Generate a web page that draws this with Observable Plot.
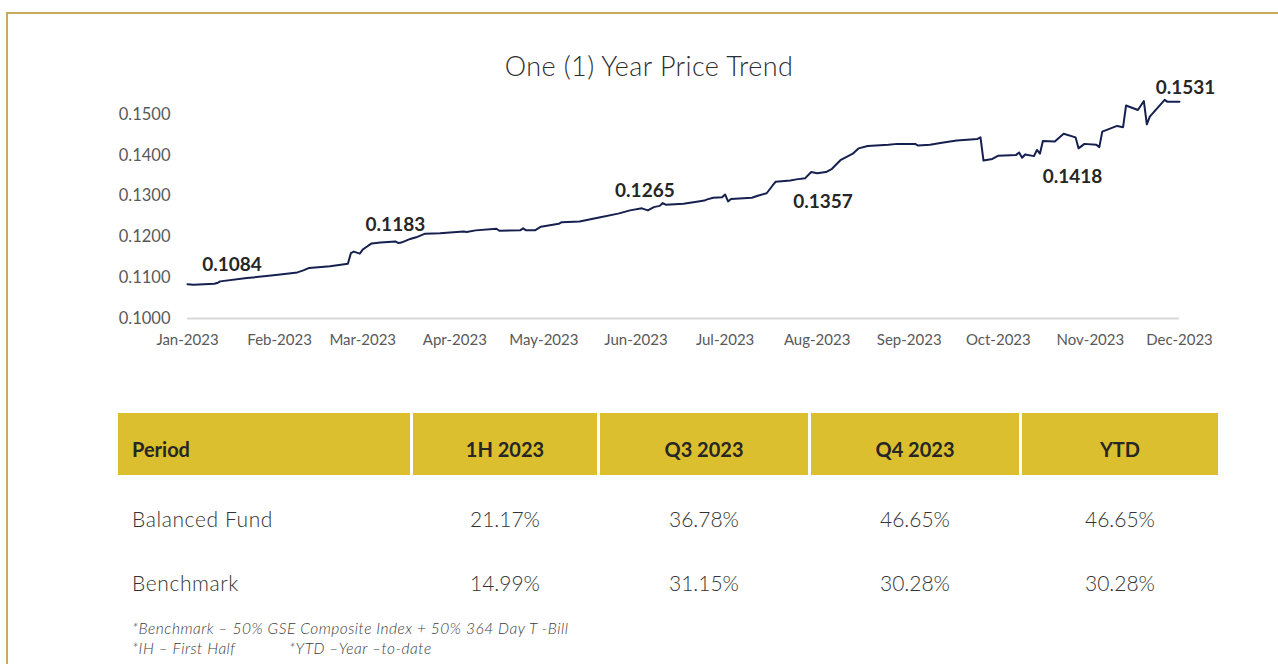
<!DOCTYPE html>
<html>
<head>
<meta charset="utf-8">
<script src="https://cdn.jsdelivr.net/npm/d3@7"></script>
<script src="https://cdn.jsdelivr.net/npm/@observablehq/plot@0.6"></script>
<style>
  html, body { margin: 0; padding: 0; background: #ffffff; }
  body { width: 1278px; height: 664px; position: relative; overflow: hidden; font-family: Lato, "Open Sans", sans-serif; }
  #frame { position: absolute; left: 6px; top: 12px; width: 1290px; height: 700px;
           border-top: 2px solid #c9ab5c; border-left: 2px solid #c9ab5c; box-sizing: border-box; }
  #title { position: absolute; left: 0; top: 51px; width: 1298px; height: 30px; line-height: 30px;
           text-align: center; font-size: 27px; color: #2e2e2e; font-weight: 300; letter-spacing: 0.4px; }
  #chart { position: absolute; left: 0; top: 80px; }
  #table { position: absolute; left: 118px; top: 413px; display: grid;
           grid-template-columns: 292px 184px 208px 208px 196px; column-gap: 3px; }
  .hd { background: #dbbf2f; height: 62px; box-sizing: border-box; padding-top: 9px; display: flex; align-items: center; justify-content: center;
        font-weight: 700; font-size: 20px; color: #262626; }
  .hd.first { justify-content: flex-start; padding-left: 14px; }
  .cell { height: 64px; display: flex; align-items: center; justify-content: center;
          font-weight: 300; font-size: 21px; color: #333333; }
  .cell.first { justify-content: flex-start; padding-left: 14px; letter-spacing: 0.6px; }
  .spacer { height: 11px; }
  #notes { position: absolute; left: 132px; top: 618px; font-style: italic; font-weight: 300;
           font-size: 15.5px; color: #3d3d3d; line-height: 20px; letter-spacing: 0.5px; }
  #notes .line2 { position: relative; height: 20px; }
  #notes .ytd { position: absolute; left: 157px; top: 0; white-space: nowrap; }
</style>
</head>
<body>
<div id="frame"></div>
<div id="title">One (1) Year Price Trend</div>
<div id="chart"></div>
<div id="table"></div>
<div id="notes"></div>
<script>
// ---- Price series ----
const dates = [
  "2023-01-01","2023-01-03","2023-01-10","2023-01-11","2023-01-12","2023-01-21","2023-01-30",
  "2023-02-07","2023-02-09","2023-02-11","2023-02-18","2023-02-24","2023-02-25","2023-02-26","2023-02-28",
  "2023-03-01","2023-03-04","2023-03-07","2023-03-12","2023-03-13","2023-03-14","2023-03-17","2023-03-19","2023-03-22","2023-03-27",
  "2023-04-04","2023-04-05","2023-04-08","2023-04-15","2023-04-16","2023-04-23","2023-04-24","2023-04-25","2023-04-28","2023-04-30",
  "2023-05-06","2023-05-07","2023-05-13","2023-05-20","2023-05-26","2023-05-30",
  "2023-06-03","2023-06-05","2023-06-07","2023-06-09","2023-06-10","2023-06-11","2023-06-17","2023-06-22","2023-06-24","2023-06-25","2023-06-27","2023-06-30",
  "2023-07-01","2023-07-02","2023-07-03","2023-07-10","2023-07-12","2023-07-15","2023-07-17","2023-07-18","2023-07-23","2023-07-25","2023-07-28","2023-07-30",
  "2023-08-01","2023-08-04","2023-08-06","2023-08-09","2023-08-13","2023-08-15","2023-08-18","2023-08-25","2023-08-28",
  "2023-09-03","2023-09-04","2023-09-08","2023-09-12","2023-09-17","2023-09-24","2023-09-25","2023-09-26","2023-09-29",
  "2023-10-01","2023-10-07","2023-10-08","2023-10-09","2023-10-10","2023-10-13","2023-10-14","2023-10-15","2023-10-16","2023-10-20","2023-10-23","2023-10-27","2023-10-28","2023-10-30",
  "2023-11-03","2023-11-04","2023-11-05","2023-11-10","2023-11-12","2023-11-13","2023-11-17","2023-11-19","2023-11-20","2023-11-21","2023-11-26","2023-11-27",
  "2023-12-01"
];
const prices = [
  0.1084,0.1083,0.1085,0.1087,0.1091,0.1099,0.1106,
  0.1113,0.1118,0.1124,0.1128,0.1134,0.1160,0.1164,0.1159,
  0.1169,0.1184,0.1186,0.1189,0.1185,0.1186,0.1195,0.1199,0.1208,0.1209,
  0.1213,0.1212,0.1216,0.1220,0.1215,0.1216,0.1221,0.1216,0.1216,0.1225,
  0.1232,0.1236,0.1238,0.1248,0.1257,0.1265,
  0.1270,0.1265,0.1273,0.1276,0.1283,0.1279,0.1281,0.1287,0.1289,0.1292,0.1296,0.1297,
  0.1304,0.1287,0.1293,0.1296,0.1301,0.1307,0.1326,0.1335,0.1338,0.1341,0.1344,0.1359,
  0.1356,0.1359,0.1367,0.1389,0.1404,0.1417,0.1423,0.1426,0.1428,
  0.1428,0.1424,0.1426,0.1431,0.1436,0.1440,0.1444,0.1387,0.1391,
  0.1399,0.1401,0.1407,0.1394,0.1402,0.1398,0.1413,0.1404,0.1435,0.1434,0.1453,0.1444,0.1417,0.1428,
  0.1426,0.1420,0.1458,0.1472,0.1469,0.1522,0.1511,0.1533,0.1476,0.1495,0.1536,0.1531,
  0.1531
];

// ---- Value annotations ----
const labelDates = ["2023-01-16","2023-03-12","2023-06-04","2023-08-03","2023-10-26","2023-12-03"];
const labelTexts = ["0.1084","0.1183","0.1265","0.1357","0.1418","0.1531"];
const labelSides = ["above","above","above","below","below","end"];

// ---- Axis ticks ----
const yTicks = [0.10, 0.11, 0.12, 0.13, 0.14, 0.15];
const xDomain = ["2023-01-01","2023-12-01"];

// ---- Table ----
const periodHeaders = ["Period","1H 2023","Q3 2023","Q4 2023","YTD"];
const rowNames = ["Balanced Fund","Benchmark"];
const fundReturns = ["21.17%","36.78%","46.65%","46.65%"];
const benchmarkReturns = ["14.99%","31.15%","30.28%","30.28%"];
const footnotes = [
  "*Benchmark  \u2013 50% GSE Composite Index + 50% 364 Day T  -Bill",
  "*IH  \u2013 First Half",
  "*YTD  \u2013Year \u2013to-date"
];

// ---- Build chart ----
const series = dates.map((d, i) => ({date: new Date(d), price: prices[i]}));
const labels = labelDates.map((d, i) => ({date: new Date(d), value: +labelTexts[i], text: labelTexts[i], side: labelSides[i]}));
const labelStyle = {x: "date", y: "value", text: "text", fontSize: 19, fontWeight: "bold", fill: "#262626"};

const chart = Plot.plot({
  width: 1278,
  height: 280,
  marginLeft: 187,
  marginRight: 99,
  marginTop: 13.6,
  marginBottom: 42,
  style: {fontFamily: "Lato, 'Open Sans', sans-serif", color: "#595959", background: "transparent", overflow: "visible"},
  x: {type: "utc", domain: xDomain.map(d => new Date(d))},
  y: {domain: [0.1, 0.155]},
  marks: [
    Plot.axisY({ticks: yTicks, tickFormat: d3.format(".4f"), tickSize: 0, tickPadding: 17, fontSize: 16.5, fill: "#595959"}),
    Plot.axisX({ticks: d3.utcMonths(new Date("2023-01-01"), new Date("2023-12-02")), tickFormat: d3.utcFormat("%b-%Y"),
                tickSize: 0, tickPadding: 16, fontSize: 15, fill: "#595959"}),
    Plot.ruleY([0.1], {stroke: "#d9d9d9", strokeWidth: 2}),
    Plot.line(series, {x: "date", y: "price", stroke: "#16204f", strokeWidth: 2, curve: "linear"}),
    Plot.text(labels.filter(d => d.side === "above"), {...labelStyle, dy: -19}),
    Plot.text(labels.filter(d => d.side === "end"), {...labelStyle, dy: -14}),
    Plot.text(labels.filter(d => d.side === "below"), {...labelStyle, dy: 29})
  ]
});
document.getElementById("chart").appendChild(chart);

// ---- Build table ----
const table = document.getElementById("table");
periodHeaders.forEach((h, i) => {
  const el = document.createElement("div");
  el.className = "hd" + (i === 0 ? " first" : "");
  el.textContent = h;
  table.appendChild(el);
});
periodHeaders.forEach(() => {
  const el = document.createElement("div");
  el.className = "spacer";
  table.appendChild(el);
});
[fundReturns, benchmarkReturns].forEach((vals, r) => {
  const nameEl = document.createElement("div");
  nameEl.className = "cell first";
  nameEl.textContent = rowNames[r];
  table.appendChild(nameEl);
  vals.forEach(v => {
    const el = document.createElement("div");
    el.className = "cell";
    el.textContent = v;
    table.appendChild(el);
  });
});

// ---- Footnotes ----
const notes = document.getElementById("notes");
const l1 = document.createElement("div");
l1.textContent = footnotes[0];
notes.appendChild(l1);
const l2 = document.createElement("div");
l2.className = "line2";
const a = document.createElement("span");
a.textContent = footnotes[1];
const b = document.createElement("span");
b.className = "ytd";
b.textContent = footnotes[2];
l2.appendChild(a); l2.appendChild(b);
notes.appendChild(l2);
</script>
</body>
</html>
